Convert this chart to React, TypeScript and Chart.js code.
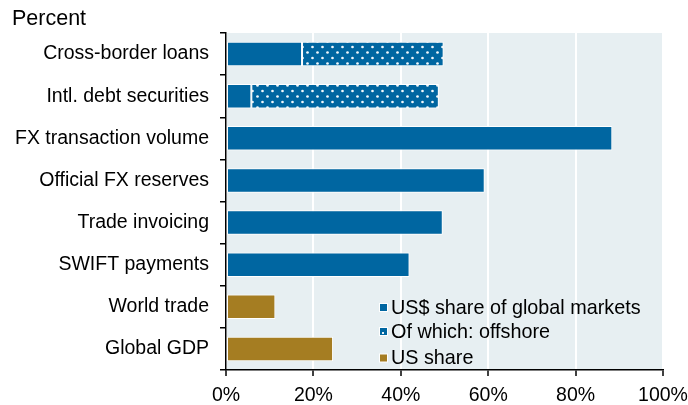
import React, { useEffect, useRef } from "react";
import { Chart, registerables } from "chart.js";

Chart.register(...registerables);

const categories = [
  "Cross-border loans",
  "Intl. debt securities",
  "FX transaction volume",
  "Official FX reserves",
  "Trade invoicing",
  "SWIFT payments",
  "World trade",
  "Global GDP",
];
const usdShare = [17.4, 5.8, 88.4, 59.2, 49.6, 42.0, null, null];
const offshore = [32.4, 42.9, null, null, null, null, null, null];
const usShare = [null, null, null, null, null, null, 11.3, 24.5];
const xTicks = [0, 20, 40, 60, 80, 100];
const seriesNames = ["US$ share of global markets", "Of which: offshore", "US share"];

const BLUE = "#0066a1";
const GOLD = "#a57d22";
const BG = "#e7eff2";
const FONT = "Arial, 'Liberation Sans', sans-serif";

function makePattern(): CanvasPattern | string {
  const c = document.createElement("canvas");
  c.width = 10;
  c.height = 11;
  const g = c.getContext("2d");
  if (!g) return BLUE;
  g.fillStyle = BLUE;
  g.fillRect(0, 0, 10, 11);
  g.fillStyle = "rgba(255,255,255,0.95)";
  g.beginPath();
  g.arc(2.5, 3, 1.35, 0, Math.PI * 2);
  g.fill();
  g.beginPath();
  g.arc(7.5, 8.5, 1.35, 0, Math.PI * 2);
  g.fill();
  const ctx = document.createElement("canvas").getContext("2d");
  const p = ctx ? ctx.createPattern(c, "repeat") : null;
  return p || BLUE;
}

export default function App() {
  const ref = useRef<HTMLCanvasElement | null>(null);

  useEffect(() => {
    if (!ref.current) return;
    const pattern = makePattern();

    const bgPlugin = {
      id: "bg",
      beforeDraw(chart: any) {
        const { ctx, chartArea } = chart;
        ctx.save();
        ctx.fillStyle = BG;
        ctx.fillRect(chartArea.left, chartArea.top, chartArea.right - chartArea.left, chartArea.bottom - chartArea.top);
        ctx.restore();
      },
    };

    const extrasPlugin = {
      id: "extras",
      afterDraw(chart: any) {
        const { ctx, chartArea } = chart;
        ctx.save();
        // Title
        ctx.fillStyle = "#000";
        ctx.font = `21.5px ${FONT}`;
        ctx.textBaseline = "alphabetic";
        ctx.textAlign = "left";
        ctx.fillText("Percent", 12, 24.5);
        // Legend
        const colors: any[] = [BLUE, "offshore", GOLD];
        const lx = chartArea.left + 154;
        const rows = [chartArea.bottom - 62.5, chartArea.bottom - 38.5, chartArea.bottom - 12];
        ctx.font = `19.8px ${FONT}`;
        ctx.textBaseline = "middle";
        seriesNames.forEach((name, i) => {
          const cy = rows[i];
          ctx.fillStyle = "#fff";
          ctx.fillRect(lx - 1, cy - 4.5, 9, 9);
          ctx.fillStyle = colors[i] === "offshore" ? BLUE : colors[i];
          ctx.fillRect(lx, cy - 3.5, 7, 7);
          if (colors[i] === "offshore") {
            ctx.fillStyle = "rgba(255,255,255,0.9)";
            ctx.fillRect(lx + 2, cy + 0.5, 2, 2);
          }
          ctx.fillStyle = "#000";
          ctx.fillText(name, lx + 11, cy + 1);
        });
        ctx.restore();
      },
    };

    const chart = new Chart(ref.current, {
      type: "bar",
      data: {
        labels: categories,
        datasets: [
          {
            label: seriesNames[0],
            data: usdShare,
            backgroundColor: BLUE,
            borderColor: "#ffffff",
            borderWidth: 1,
            borderSkipped: false,
            stack: "s",
          },
          {
            label: seriesNames[1],
            data: offshore,
            backgroundColor: pattern as any,
            borderColor: "#ffffff",
            borderWidth: 1,
            borderSkipped: false,
            stack: "s",
          },
          {
            label: seriesNames[2],
            data: usShare,
            backgroundColor: GOLD,
            borderColor: "#ffffff",
            borderWidth: 1,
            borderSkipped: false,
            stack: "s",
          },
        ],
      },
      options: {
        indexAxis: "y",
        animation: false,
        responsive: true,
        maintainAspectRatio: false,
        layout: { padding: { top: 33, right: 25, left: 0, bottom: 0 } },
        datasets: { bar: { barPercentage: 0.58, categoryPercentage: 1 } },
        plugins: {
          legend: { display: false },
          tooltip: { enabled: false },
        },
        scales: {
          x: {
            stacked: true,
            min: 0,
            max: 100,
            afterBuildTicks: (s: any) => {
              s.ticks = xTicks.map((v) => ({ value: v }));
            },
            afterFit: (s: any) => {
              s.height = 35;
              s.paddingLeft = 0;
              s.paddingRight = 0;
            },
            ticks: {
              callback: (v: any) => `${v}%`,
              color: "#000",
              font: { size: 19.5, family: FONT },
              padding: 8,
              maxRotation: 0,
            },
            grid: {
              color: "#ffffff",
              lineWidth: 2,
              tickColor: "#000",
              tickLength: 6,
              tickWidth: 1.5,
            },
            border: { display: true, color: "#000", width: 1.5 },
          },
          y: {
            stacked: true,
            afterFit: (s: any) => {
              s.width = 226;
            },
            ticks: {
              color: "#000",
              font: { size: 19.5, family: FONT },
              padding: 11,
            },
            grid: {
              drawOnChartArea: false,
              color: "#000",
              tickLength: 6,
              lineWidth: 1.5,
              offset: true,
            },
            border: { display: true, color: "#000", width: 1.5 },
          },
        },
      },
      plugins: [bgPlugin, extrasPlugin],
    } as any);

    return () => chart.destroy();
  }, []);

  return (
    <div style={{ position: "fixed", left: 0, top: 0, width: 688, height: 405, background: "#fff" }}>
      <canvas ref={ref} />
    </div>
  );
}
